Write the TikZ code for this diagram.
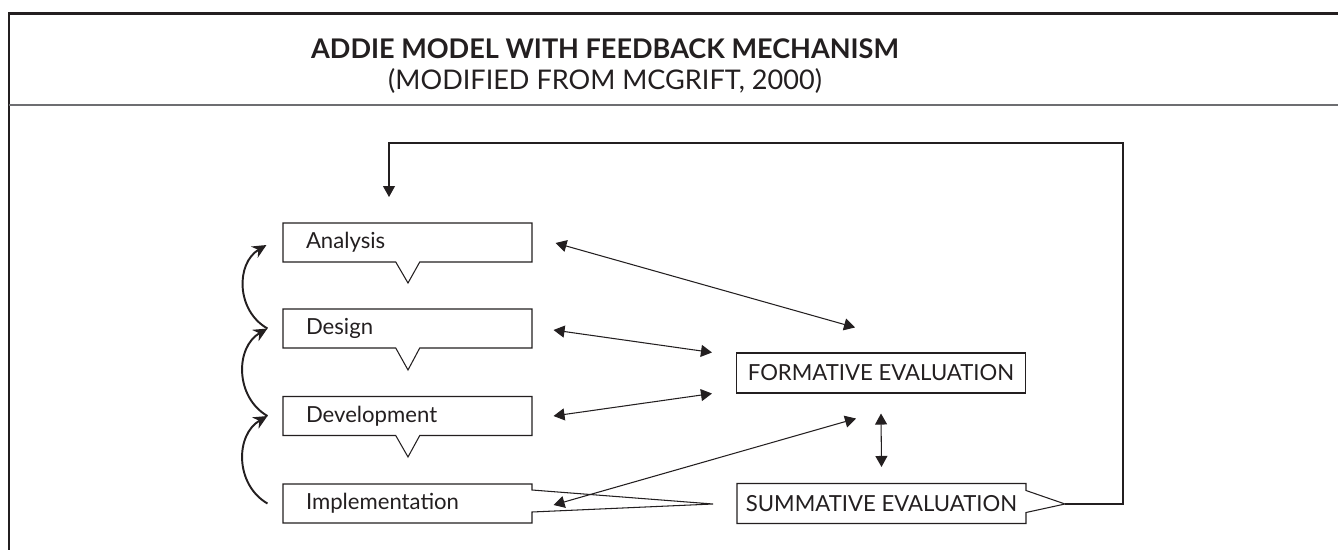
\documentclass[tikz,border=0pt]{standalone}
\usepackage{fontspec}
\setmainfont{Lato}
\usepackage{tikz}
\usetikzlibrary{arrows.meta,positioning,calc,shapes.callouts}
\definecolor{ink}{HTML}{231F20}
\definecolor{rule}{HTML}{6D6E71}

\begin{document}
\begin{tikzpicture}[
  stagebox/.style={rectangle callout, draw=ink, line width=0.6pt, fill=white, text=ink,
    minimum height=0.78cm, text width=4.06cm, inner xsep=0.46cm, align=left,
    callout pointer width=0.48cm, font=\fontsize{12.6}{15}\selectfont},
  evalbox/.style={draw=ink, line width=0.6pt, fill=white, text=ink,
    minimum height=0.8cm, minimum width=5.78cm, font=\fontsize{12.6}{15}\selectfont},
  twoway/.style={{Triangle[length=0.22cm,width=0.24cm]}-{Triangle[length=0.22cm,width=0.24cm]}, line width=0.6pt, ink},
  oneway/.style={-{Triangle[length=0.22cm,width=0.24cm]}, line width=0.6pt, ink},
  loopback/.style={-{Stealth[length=0.28cm,width=0.26cm]}, line width=1.1pt, ink, bend left=60, looseness=1.1}
]
  \useasboundingbox (0,0) rectangle (26.76,-11);

  % frame and header
  \draw[ink, line width=1.7pt] (0.18,-11) -- (0.18,-0.27) -- (26.76,-0.27);
  \draw[rule, line width=0.7pt] (0.18,-2.1) -- (26.76,-2.1);
  \node[text=ink, font=\fontsize{15.4}{19}\selectfont\bfseries] (title) at (12.1,-0.97) {ADDIE MODEL WITH FEEDBACK MECHANISM};
  \node[text=ink, font=\fontsize{15.4}{19}\selectfont] (source) at (12.1,-1.62) {(MODIFIED FROM MCGRIFT, 2000)};

  % ADDIE stages
  \node[stagebox, callout absolute pointer={(8.16,-5.66)}] (ana) at (8.15,-4.85) {Analysis};
  \node[stagebox, callout absolute pointer={(8.16,-7.4)}] (des) at (8.15,-6.57) {Design};
  \node[stagebox, callout absolute pointer={(8.16,-9.14)}] (dev) at (8.15,-8.32) {Development};
  \node[stagebox, callout absolute pointer={(14.26,-10.08)}, callout pointer width=0.44cm] (imp) at (8.15,-10.07) {Implementation};

  % evaluation
  \node[evalbox] (form) at (17.62,-7.46) {FORMATIVE EVALUATION};
  \node[evalbox, rectangle callout, callout absolute pointer={(21.3,-10.08)}, callout pointer width=0.44cm] (summ) at (17.63,-10.07) {SUMMATIVE EVALUATION};

  % stage to stage
  \draw[loopback] ($(des.west)+(-0.3,0)$) to ($(ana.west)+(-0.32,-0.05)$);
  \draw[loopback] ($(dev.west)+(-0.3,0)$) to ($(des.west)+(-0.3,0)$);
  \draw[loopback] ($(imp.west)+(-0.3,0)$) to ($(dev.west)+(-0.3,0)$);

  % stages and formative evaluation
  \draw[twoway] ($(ana.east)+(0.46,-0.01)$) -- ($(form.north)+(-0.52,0.5)$);
  \draw[twoway] ($(des.east)+(0.42,-0.03)$) -- ($(form.north west)+(-0.48,0)$);
  \draw[twoway] ($(dev.east)+(0.42,0)$) -- ($(form.south west)+(-0.48,0)$);
  \draw[twoway] ($(imp.east)+(0.42,-0.03)$) -- ($(form.south)+(-0.5,-0.5)$);
  \draw[twoway] ($(form.south)+(0,-0.4)$) -- ($(summ.north)+(0,0.32)$);

  % feedback loop
  \coordinate (fbtip) at (21.3,-10.08);
  \draw[oneway] (fbtip) -- (22.46,-10.08) |- (7.78,-2.86) -- (7.78,-3.94);
\end{tikzpicture}
\end{document}
